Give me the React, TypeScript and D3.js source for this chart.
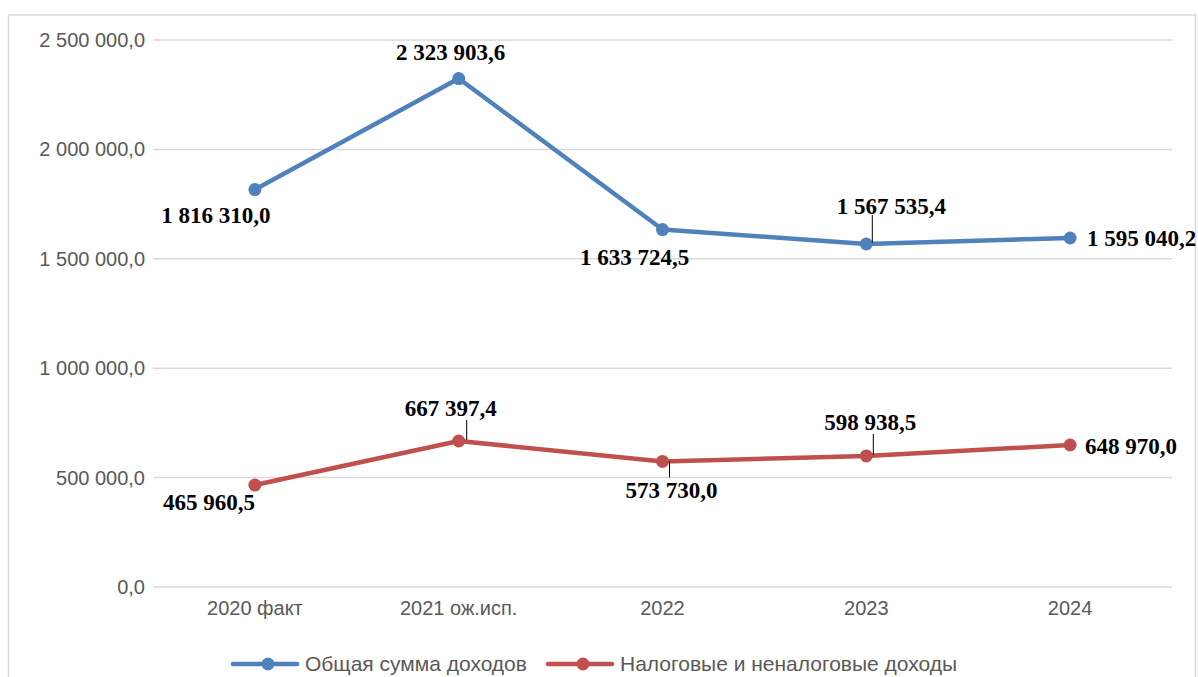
import React from 'react';
import * as d3 from 'd3';

const categories = ['2020 факт', '2021 ож.исп.', '2022', '2023', '2024'];
const totalIncome = [1816310.0, 2323903.6, 1633724.5, 1567535.4, 1595040.2];
const taxIncome = [465960.5, 667397.4, 573730.0, 598938.5, 648970.0];
const yTicks = [0, 500000, 1000000, 1500000, 2000000, 2500000];
const seriesNames = ['Общая сумма доходов', 'Налоговые и неналоговые доходы'];

// label placement relative to the point: dx, dy, anchor, leader line
type LabelPos = { dx: number; dy: number; anchor: string; leader?: [number, number, number, number] };
const totalLabelPos: LabelPos[] = [
  { dx: -39, dy: 25, anchor: 'middle' },
  { dx: -8, dy: -27, anchor: 'middle' },
  { dx: -28, dy: 27, anchor: 'middle' },
  { dx: 25, dy: -38, anchor: 'middle', leader: [6, -1, 6, -29] },
  { dx: 17, dy: 0, anchor: 'start' },
];
const taxLabelPos: LabelPos[] = [
  { dx: -46, dy: 17, anchor: 'middle' },
  { dx: -8, dy: -33, anchor: 'middle', leader: [8, -1, 8, -21] },
  { dx: 9, dy: 28, anchor: 'middle', leader: [7, 0, 7, 16] },
  { dx: 4, dy: -34, anchor: 'middle', leader: [7, -1, 7, -22] },
  { dx: 15, dy: 1, anchor: 'start' },
];

const fmt = (v: number) => {
  const [i, d] = v.toFixed(1).split('.');
  return i.replace(/\B(?=(\d{3})+(?!\d))/g, ' ') + ',' + d;
};

const W = 1198;
const H = 677;
const margin = { left: 153, right: 26, top: 40, bottom: 90 };
const colors = ['#4F81BD', '#C0504D'];
const sans = "'Liberation Sans', Arial, sans-serif";

export default function App() {
  const innerH = H - margin.top - margin.bottom;
  const x = d3
    .scaleBand()
    .domain(categories)
    .range([margin.left, W - margin.right])
    .padding(0);
  const y = d3.scaleLinear().domain([0, 2500000]).range([margin.top + innerH, margin.top]);
  const cx = (c: string) => (x(c) || 0) + x.bandwidth() / 2;

  const line = d3
    .line<number>()
    .x((_, i) => cx(categories[i]))
    .y((d) => y(d));

  const series = [
    { name: seriesNames[0], data: totalIncome, pos: totalLabelPos, color: colors[0] },
    { name: seriesNames[1], data: taxIncome, pos: taxLabelPos, color: colors[1] },
  ];
  const legend = [
    { lx: 233, tx: 305 },
    { lx: 548, tx: 620 },
  ];

  return (
    <svg width={W} height={H} style={{ position: 'absolute', left: 0, top: 0 }}>
      <rect x={0} y={0} width={W} height={H} fill="#fff" />
      <rect x={8.5} y={15} width={1187} height={700} fill="none" stroke="#d9d9d9" strokeWidth={1.5} />
      {yTicks.map((t) => (
        <g key={t}>
          <line x1={margin.left} x2={W - margin.right} y1={y(t)} y2={y(t)} stroke="#d9d9d9" strokeWidth={1.5} />
          <text
            x={margin.left - 8}
            y={y(t)}
            dy="0.35em"
            textAnchor="end"
            fontFamily={sans}
            fontSize={20}
            fill="#595959"
          >
            {fmt(t)}
          </text>
        </g>
      ))}
      {categories.map((c) => (
        <text
          key={c}
          x={cx(c)}
          y={y(0) + 28}
          textAnchor="middle"
          fontFamily={sans}
          fontSize={20}
          fill="#595959"
        >
          {c}
        </text>
      ))}
      {series.map((s) => (
        <g key={s.name}>
          <path d={line(s.data) || ''} fill="none" stroke={s.color} strokeWidth={4.5} strokeLinejoin="round" />
          {s.data.map((v, i) => (
            <circle key={i} cx={cx(categories[i])} cy={y(v)} r={6.5} fill={s.color} />
          ))}
          {s.data.map((v, i) => {
            const px = cx(categories[i]);
            const py = y(v);
            const p = s.pos[i];
            return (
              <g key={'l' + i}>
                {p.leader && (
                  <line
                    x1={px + p.leader[0]}
                    y1={py + p.leader[1]}
                    x2={px + p.leader[2]}
                    y2={py + p.leader[3]}
                    stroke="#000"
                    strokeWidth={1}
                  />
                )}
                <text
                  x={px + p.dx}
                  y={py + p.dy}
                  dy="0.35em"
                  textAnchor={p.anchor}
                  fontFamily="'Liberation Serif', 'Times New Roman', serif"
                  fontWeight="bold"
                  fontSize={23}
                  fill="#000"
                >
                  {fmt(v)}
                </text>
              </g>
            );
          })}
        </g>
      ))}
      {series.map((s, i) => {
        const { lx, tx } = legend[i];
        const ly = 664;
        return (
          <g key={'leg' + i}>
            <line x1={lx} x2={lx + 64} y1={ly} y2={ly} stroke={s.color} strokeWidth={4.5} strokeLinecap="round" />
            <circle cx={lx + 35} cy={ly} r={6.5} fill={s.color} />
            <text x={tx} y={ly} dy="0.35em" fontFamily={sans} fontSize={21} fill="#595959">
              {s.name}
            </text>
          </g>
        );
      })}
    </svg>
  );
}
